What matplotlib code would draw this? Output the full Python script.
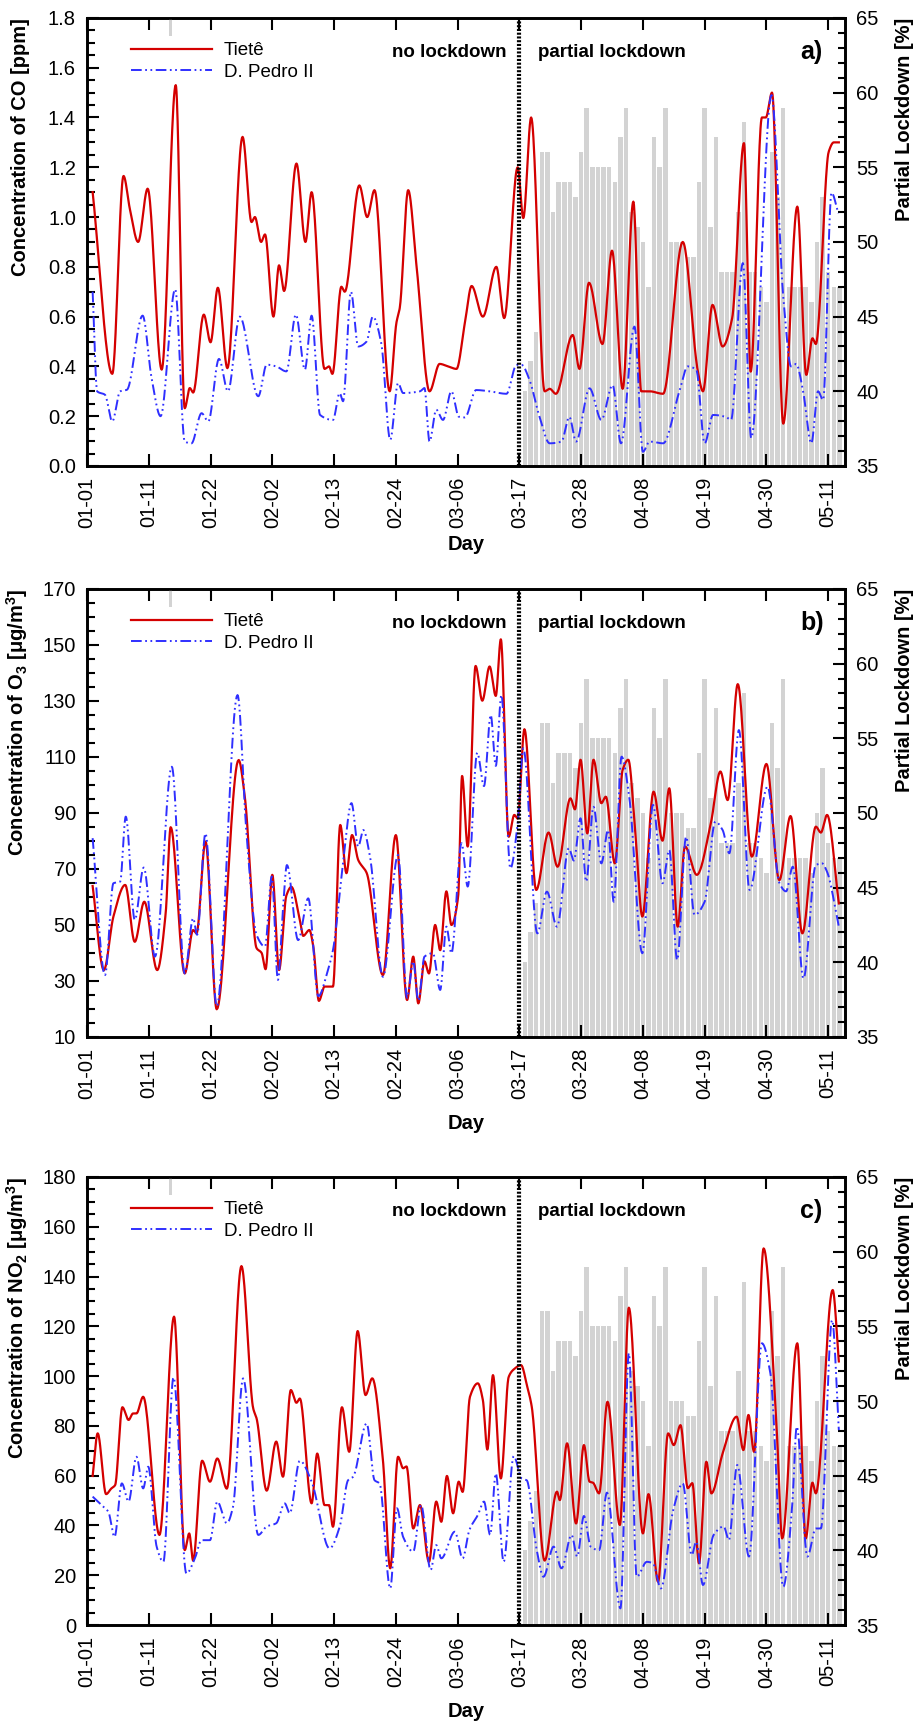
import numpy as np
import matplotlib.pyplot as plt
from matplotlib.ticker import MultipleLocator
from matplotlib.patches import Rectangle

plt.rcParams['font.family'] = ['Liberation Sans', 'DejaVu Sans']
plt.rcParams['mathtext.fontset'] = 'custom'
plt.rcParams['mathtext.rm'] = 'Liberation Sans'
plt.rcParams['mathtext.bf'] = 'Liberation Sans:bold'
plt.rcParams['mathtext.default'] = 'regular'

# - - - - - - - - - - - - - - - - - - - - - - - - - - - - - - - - -
# Data (day number on the x axis)
# - - - - - - - - - - - - - - - - - - - - - - - - - - - - - - - - -

tick_days = [0, 11, 22, 33, 44, 55, 66, 77, 88, 99, 110, 121, 132]
tick_labels = ['01-01', '01-11', '01-22', '02-02', '02-13', '02-24', '03-06',
               '03-17', '03-28', '04-08', '04-19', '04-30', '05-11']
lockdown_start = 77

lock_days = list(range(78, 135))
lock_pct = [40, 42, 44, 56, 56, 52, 54, 54, 54, 53, 56, 59, 55, 55, 55, 55,
            54, 57, 59, 52, 51, 50, 47, 57, 55, 59, 50, 50, 50, 49, 49, 54,
            59, 51, 57, 48, 48, 48, 52, 58, 48, 48, 47, 46, 56, 53, 59, 47,
            47, 47, 47, 46, 50, 53, 48, 47, 47]

# CO [ppm]
co_tiete_day = [1.0, 4.5, 6.5, 7.65, 9.1, 10.8, 13.3, 15.8, 17.4, 18.3, 18.9,
                20.8, 22.0, 23.3, 25.0, 27.7, 29.3, 29.9, 31.0, 31.7, 33.2,
                34.2, 35.1, 37.3, 38.9, 40.0, 42.3, 43.1, 43.7, 45.3, 45.9,
                48.5, 49.9, 51.2, 53.9, 55.1, 55.7, 57.2, 58.7, 61.0, 62.8,
                64.3, 65.8, 67.3, 68.5, 70.5, 72.9, 74.3, 76.7, 77.7, 79.1,
                81.5, 82.4, 83.5, 86.5, 87.7, 89.4, 91.8, 93.5, 95.4, 97.3,
                98.7, 100.2, 102.6, 106.1, 108.8, 109.7, 111.4, 113.2, 114.9,
                117.0, 118.2, 120.2, 120.9, 122.0, 124.0, 126.5, 128.1, 129.2,
                129.8, 132.1, 133.0, 133.9]
co_tiete = [1.10, 0.37, 1.165, 1.03, 0.90, 1.114, 0.387, 1.53, 0.232, 0.313,
            0.295, 0.608, 0.497, 0.716, 0.393, 1.322, 0.98, 1.0, 0.90, 0.93,
            0.60, 0.806, 0.703, 1.215, 0.90, 1.10, 0.39, 0.40, 0.37, 0.72,
            0.70, 1.127, 1.0, 1.108, 0.30, 0.575, 0.635, 1.108, 0.80, 0.30,
            0.41, 0.40, 0.39, 0.575, 0.723, 0.60, 0.80, 0.594, 1.20, 0.996,
            1.40, 0.30, 0.31, 0.29, 0.526, 0.39, 0.736, 0.49, 0.865, 0.31,
            1.062, 0.30, 0.30, 0.29, 0.90, 0.379, 0.30, 0.647, 0.48, 0.594,
            1.297, 0.379, 1.40, 1.40, 1.50, 0.17, 1.042, 0.366, 0.513, 0.49,
            1.263, 1.30, 1.30]

co_pedro_day = [1.0, 1.8, 3.2, 4.5, 5.9, 7.1, 9.9, 11.5, 13.1, 15.7, 17.4,
                18.6, 20.4, 21.6, 23.5, 25.1, 27.2, 30.5, 32.0, 33.7, 35.5,
                37.2, 38.8, 40.0, 41.5, 43.8, 45.0, 45.6, 47.0, 48.3, 49.8,
                50.9, 52.4, 54.0, 55.4, 56.3, 59.3, 60.1, 61.0, 62.2, 63.4,
                64.9, 66.2, 67.3, 69.3, 71.7, 74.7, 76.5, 77.4, 78.8, 80.6,
                82.4, 84.5, 85.9, 87.1, 89.5, 91.6, 93.6, 95.1, 97.5, 99.0,
                100.2, 102.6, 105.5, 107.0, 108.5, 110.0, 111.5, 113.8, 114.7,
                116.8, 118.3, 121.9, 124.0, 125.4, 126.3, 127.5, 129.0, 130.2,
                131.1, 132.6, 133.8]
co_pedro = [0.70, 0.30, 0.286, 0.179, 0.30, 0.306, 0.604, 0.353, 0.20, 0.71,
            0.098, 0.091, 0.212, 0.179, 0.43, 0.30, 0.60, 0.28, 0.407, 0.40,
            0.38, 0.608, 0.387, 0.604, 0.205, 0.185, 0.293, 0.26, 0.70, 0.48,
            0.50, 0.60, 0.494, 0.105, 0.333, 0.293, 0.30, 0.313, 0.098, 0.226,
            0.185, 0.30, 0.198, 0.195, 0.305, 0.30, 0.29, 0.406, 0.406, 0.346,
            0.197, 0.091, 0.098, 0.197, 0.098, 0.312, 0.185, 0.325, 0.091,
            0.56, 0.057, 0.098, 0.091, 0.30, 0.40, 0.387, 0.091, 0.205, 0.197,
            0.185, 0.815, 0.112, 1.49, 0.68, 0.40, 0.41, 0.305, 0.091, 0.30,
            0.265, 1.098, 1.015]

# O3 [ug/m3]
o3_tiete_day = [1.0, 3.0, 4.7, 6.8, 8.5, 10.2, 12.5, 14.0, 14.9, 17.4, 18.9,
                19.5, 21.1, 23.1, 27.0, 28.1, 30.2, 31.1, 31.8, 33.0, 34.2,
                35.5, 36.4, 37.9, 38.5, 39.6, 40.3, 41.3, 42.3, 43.8, 45.1,
                46.2, 47.2, 48.3, 49.8, 52.7, 55.0, 57.0, 58.1, 59.0, 60.1,
                60.9, 62.0, 62.9, 64.0, 64.9, 66.1, 66.8, 67.8, 69.2, 70.4,
                71.7, 72.8, 73.7, 75.1, 76.1, 76.7, 77.9, 80.0, 82.2, 83.8,
                86.1, 86.9, 87.9, 89.1, 90.2, 91.6, 92.4, 94.0, 95.4, 96.4,
                97.7, 98.9, 100.9, 102.5, 103.7, 105.2, 106.5, 108.6, 111.1,
                112.8, 114.1, 115.9, 118.4, 121.0, 123.3, 125.3, 127.4, 129.8,
                130.7, 131.8, 133.9]
o3_tiete = [63.9, 33.9, 53, 64.3, 44, 58.3, 33.9, 54, 84.9, 32.7, 48.2, 47,
            79.8, 19.9, 108.9, 95.8, 41.7, 40, 34.2, 67.9, 33.9, 60.5, 63.6,
            51.8, 46.1, 48.2, 42.3, 22.9, 28.0, 28, 85.7, 68.5, 82.1, 73.2,
            68.6, 32.1, 82.1, 23.2, 38.7, 22, 37, 32.7, 50, 41, 62, 50, 60.2,
            103.2, 78, 142.5, 130.1, 142.3, 131.8, 152, 81.5, 89.3, 88, 119.9,
            62.5, 83, 70.8, 95.2, 91.3, 109, 82.7, 109, 93.5, 95.8, 72, 105.4,
            109, 81.5, 53, 97.6, 80.1, 98.8, 49.4, 78, 67.9, 86.3, 104.8,
            94.6, 136, 74.4, 107.5, 66, 88.9, 47, 85.1, 83, 89.3, 57.7]

o3_pedro_day = [1.0, 3.2, 4.7, 5.9, 6.9, 8.5, 10.1, 12.1, 15.1, 17.4, 18.9,
                19.6, 21.1, 23.1, 26.8, 28.4, 30.2, 31.7, 32.9, 34.0, 34.9,
                35.6, 37.6, 39.4, 41.2, 42.9, 43.8, 45.6, 47.1, 48.3, 49.2,
                50.4, 52.7, 55.4, 57.0, 58.1, 59.0, 60.1, 61.6, 62.9, 64.0,
                64.9, 66.7, 67.8, 69.5, 70.7, 71.9, 72.8, 73.8, 75.4, 76.7,
                77.7, 80.2, 81.9, 83.7, 85.8, 86.7, 87.9, 88.9, 90.2, 91.6,
                92.8, 93.8, 95.2, 96.6, 98.9, 100.8, 102.5, 103.7, 105.1,
                106.7, 108.2, 110.0, 111.9, 113.2, 114.4, 116.1, 118.0, 121.2,
                123.3, 124.5, 125.7, 127.6, 129.8, 130.9, 131.8, 133.9]
o3_pedro = [81, 32.1, 64.9, 65.5, 88.7, 51.8, 70.5, 38.7, 106.5, 32.7, 52.4,
            46.5, 82.7, 21, 132.1, 82.7, 46.4, 42.3, 67.3, 30.4, 55.8, 71.4,
            44.6, 59.5, 24.6, 33.9, 41, 72, 93.5, 78, 83.9, 74.4, 31.5, 75,
            24, 37, 23, 38.7, 39.9, 26.8, 49.4, 39.9, 79.2, 63.7, 111.5, 99.6,
            125, 106.8, 132.1, 70.2, 86.3, 113.1, 47, 61.9, 49.4, 77.4, 73,
            88.1, 65.5, 92.2, 72, 83.9, 58.3, 110.1, 95.2, 39.9, 92.9, 64.9,
            76.8, 37.5, 81.5, 53.6, 58.3, 86.9, 83.9, 75.6, 119.6, 62.5, 99.4,
            65, 62, 70.8, 30.9, 71.4, 72, 69, 49.4]

# NO2 [ug/m3]
no2_tiete_day = [1.0, 1.9, 3.4, 4.3, 5.0, 6.3, 7.4, 8.2, 8.8, 10.0, 12.9,
                 15.5, 17.4, 18.2, 18.9, 20.5, 21.9, 23.2, 24.9, 27.5, 29.6,
                 30.2, 32.0, 33.7, 34.9, 36.3, 37.3, 37.9, 40.0, 41.0, 42.3,
                 43.1, 43.8, 45.4, 46.7, 48.2, 49.6, 50.8, 52.7, 54.0, 55.4,
                 56.3, 56.9, 58.1, 59.3, 60.9, 62.2, 63.1, 64.1, 65.2, 66.2,
                 66.9, 68.2, 69.6, 70.5, 71.3, 72.3, 73.7, 75.1, 76.0, 77.3,
                 78.4, 79.2, 81.5, 83.7, 84.2, 85.5, 87.1, 88.5, 89.5, 90.1,
                 91.2, 92.7, 94.9, 96.5, 99.0, 100.0, 101.7, 103.5, 104.5,
                 105.7, 107.0, 107.8, 109.0, 110.3, 111.2, 113.2, 115.7, 116.9,
                 117.8, 118.8, 120.5, 122.9, 123.8, 126.5, 128.0, 129.2, 129.8,
                 132.8, 133.9]
no2_tiete = [59.9, 77, 52.6, 54.8, 56.2, 87.5, 82.4, 85, 85, 91.7, 36.2,
             123.9, 30.1, 36.8, 25.9, 66, 57.6, 66.9, 54.8, 144.2, 87, 83, 54,
             73.7, 59.6, 94.4, 89.3, 91, 48.9, 68.9, 48.2, 48.2, 39.5, 87.5,
             69.6, 118.1, 92.4, 99.1, 66.3, 22.8, 67.6, 63, 63.7, 38.8, 48.2,
             25.4, 49.6, 41.5, 59.9, 44.9, 57.6, 53.5, 91.7, 97.1, 90.4, 70.5,
             100.4, 58.9, 99.7, 102.7, 104.4, 95.8, 87.8, 25.9, 53.6, 50.2, 73,
             40.8, 72.3, 57.6, 57.2, 52.9, 89.7, 40.2, 127.5, 36.8, 52.6, 17.4,
             77, 72.3, 80.3, 55, 57, 24.8, 65.6, 52.9, 68.9, 83.7, 70.3, 84.4,
             69.6, 151.3, 75.6, 34.8, 113.2, 34.8, 57.2, 52.9, 134.6, 105.9]

no2_pedro_day = [1.0, 2.9, 3.8, 4.9, 6.2, 7.4, 8.8, 10.0, 10.9, 12.4, 13.6,
                 15.4, 17.7, 19.2, 20.4, 21.9, 23.2, 24.9, 26.0, 27.8, 30.5,
                 32.0, 33.7, 35.2, 36.1, 37.9, 40.0, 43.2, 45.0, 46.5, 47.4,
                 49.8, 51.2, 52.1, 54.0, 55.2, 56.3, 58.1, 59.5, 61.2, 62.2,
                 63.1, 65.5, 66.9, 68.1, 69.6, 70.7, 71.8, 72.8, 74.2, 76.0,
                 77.4, 78.3, 80.1, 81.3, 83.1, 84.5, 86.3, 87.3, 88.5, 89.7,
                 91.2, 92.6, 95.0, 96.5, 97.9, 99.7, 100.8, 102.2, 104.4,
                 106.1, 107.7, 108.5, 109.7, 111.6, 113.4, 114.3, 115.8, 117.9,
                 120.2, 121.7, 124.0, 125.6, 126.4, 128.3, 129.8, 130.7, 132.7,
                 133.9]
no2_pedro = [51.6, 47.5, 45.5, 35.4, 56.9, 49.6, 67.6, 54.9, 63.6, 31.5, 25.4,
             99.5, 20.7, 26.7, 34.1, 34.1, 49.6, 40.9, 47.5, 99.1, 36.2, 39.6,
             40.9, 48.9, 44.9, 66, 57.6, 30.8, 39.5, 58.2, 59.6, 81, 58.2,
             56.9, 14.7, 46.9, 35.4, 29.5, 48.2, 22.1, 32.1, 26.8, 37.5, 26.8,
             38.2, 44.2, 49.6, 36.2, 60.9, 25.4, 67.9, 58.9, 58.2, 30.1, 19.4,
             31.5, 22.8, 36.2, 27.5, 43.8, 31.5, 30.1, 53.2, 6.7, 109.2, 19.4,
             25.4, 24.8, 14.7, 46.2, 56.9, 28.1, 33.5, 16.1, 36.2, 39.6, 34.1,
             64.3, 27.5, 113.2, 101.2, 15.4, 48.2, 79.7, 27.5, 38.8, 38.8,
             122.5, 78.3]


def smooth(x, y, n=24):
    # Piecewise cubic Hermite curve through the read points
    # (flat tangents at local extrema, harmonic mean elsewhere).
    x = np.asarray(x, float)
    y = np.asarray(y, float)
    h = np.diff(x)
    d = np.diff(y) / h
    m = np.zeros_like(y)
    for i in range(1, len(y) - 1):
        if d[i-1] * d[i] > 0:
            w1 = 2*h[i] + h[i-1]
            w2 = h[i] + 2*h[i-1]
            m[i] = (w1 + w2) / (w1/d[i-1] + w2/d[i])
    m[0] = d[0]
    m[-1] = d[-1]
    t = np.linspace(0, 1, n, endpoint=False)
    h00 = 2*t**3 - 3*t**2 + 1
    h10 = t**3 - 2*t**2 + t
    h01 = -2*t**3 + 3*t**2
    h11 = t**3 - t**2
    xs, ys = [], []
    for i in range(len(h)):
        xs.append(x[i] + t*h[i])
        ys.append(h00*y[i] + h10*h[i]*m[i] + h01*y[i+1] + h11*h[i]*m[i+1])
    xs.append([x[-1]])
    ys.append([y[-1]])
    return np.concatenate(xs), np.concatenate(ys)


RED = '#d40000'
BLUE = '#2f2fff'
FS = 14.5

panels = [
    dict(tiete=(co_tiete_day, co_tiete), pedro=(co_pedro_day, co_pedro),
         ylim=(0, 1.8), major=0.2, minor=0.05, fmt='{:.1f}',
         ylabel='Concentration of CO [ppm]', tag='a)', bottom=0.7294,
         daypos=-0.155),
    dict(tiete=(o3_tiete_day, o3_tiete), pedro=(o3_pedro_day, o3_pedro),
         ylim=(10, 170), major=20, minor=5, fmt='{:.0f}',
         ylabel=r'Concentration of O$_\mathbf{3}$ [$\mu$g/m$^\mathbf{3}$]',
         tag='b)', bottom=0.3978, daypos=-0.171),
    dict(tiete=(no2_tiete_day, no2_tiete), pedro=(no2_pedro_day, no2_pedro),
         ylim=(0, 180), major=20, minor=5, fmt='{:.0f}',
         ylabel=r'Concentration of NO$_\mathbf{2}$ [$\mu$g/m$^\mathbf{3}$]',
         tag='c)', bottom=0.0563, daypos=-0.171),
]

fig = plt.figure(figsize=(9.17, 17.22), dpi=100)

for p in panels:
    ax = fig.add_axes([0.0949, p['bottom'], 0.8266, 0.2602])
    ax2 = ax.twinx()
    ax.set_zorder(ax2.get_zorder() + 1)
    ax.patch.set_visible(False)

    # lockdown bars on the right axis
    ax2.bar(lock_days, lock_pct, width=0.8, color='#d3d3d3', linewidth=0)
    ax2.set_ylim(35, 65)
    ax2.yaxis.set_major_locator(MultipleLocator(5))
    ax2.yaxis.set_minor_locator(MultipleLocator(1))
    ax2.set_ylabel('Partial Lockdown [%]', fontsize=FS, fontweight='bold')
    ax2.yaxis.set_label_coords(1.066, 1.0)
    ax2.yaxis.label.set_horizontalalignment('right')

    xs, ys = smooth(*p['tiete'])
    ax.plot(xs, ys, color=RED, lw=1.6, label='Tietê')
    xs, ys = smooth(*p['pedro'])
    ax.plot(xs, ys, color=BLUE, lw=1.4, label='D. Pedro II',
            dashes=(5.5, 1.8, 0.9, 1.8, 0.9, 1.8))
    ax.axvline(lockdown_start, color='black', lw=3.0, dashes=(0.5, 0.4))

    ax.set_xlim(0, 135)
    ax.set_ylim(*p['ylim'])
    ax.set_xticks(tick_days)
    ax.set_xticklabels(tick_labels, rotation=90)
    ax.yaxis.set_major_locator(MultipleLocator(p['major']))
    ax.yaxis.set_minor_locator(MultipleLocator(p['minor']))
    ax.set_yticks(np.arange(p['ylim'][0], p['ylim'][1] + 1e-9, p['major']))
    ax.set_yticklabels([p['fmt'].format(v) for v in
                        np.arange(p['ylim'][0], p['ylim'][1] + 1e-9,
                                  p['major'])])

    ax.set_ylabel(p['ylabel'], fontsize=FS, fontweight='bold')
    ax.yaxis.set_label_coords(-0.075, 1.0)
    ax.yaxis.label.set_horizontalalignment('right')
    ax.set_xlabel('Day', fontsize=FS, fontweight='bold')
    ax.xaxis.set_label_coords(0.5, p['daypos'])

    for a in (ax, ax2):
        for s in a.spines.values():
            s.set_linewidth(1.9)
    ax.tick_params(axis='both', which='both', direction='in', width=1.5,
                   labelsize=FS, pad=8)
    ax.tick_params(axis='x', which='both', top=True, length=8.6)
    ax.tick_params(axis='y', which='major', length=8.6)
    ax.tick_params(axis='y', which='minor', length=5.5)
    ax2.tick_params(axis='y', which='both', direction='in', width=1.5,
                    labelsize=FS, pad=8)
    ax2.tick_params(axis='y', which='major', length=8.6)
    ax2.tick_params(axis='y', which='minor', length=5.0)

    # small grey mark under the top spine
    ax.add_patch(Rectangle((0.108, 0.96), 0.0035, 0.04, transform=ax.transAxes,
                           color='#d3d3d3', lw=0, zorder=1))

    ax.legend(loc='upper left', bbox_to_anchor=(0.058, 0.946), frameon=False,
              fontsize=13.5, handlelength=4.3, handletextpad=0.65,
              borderpad=0, borderaxespad=0, labelspacing=0.24)

    ax.text(0.402, 0.922, 'no lockdown', transform=ax.transAxes,
            fontsize=13.5, fontweight='bold', va='center', ha='left')
    ax.text(0.595, 0.922, 'partial lockdown', transform=ax.transAxes,
            fontsize=13.5, fontweight='bold', va='center', ha='left')
    ax.text(0.941, 0.924, p['tag'], transform=ax.transAxes,
            fontsize=18, fontweight='bold', va='center', ha='left')

fig.savefig('out.png', dpi=100)
